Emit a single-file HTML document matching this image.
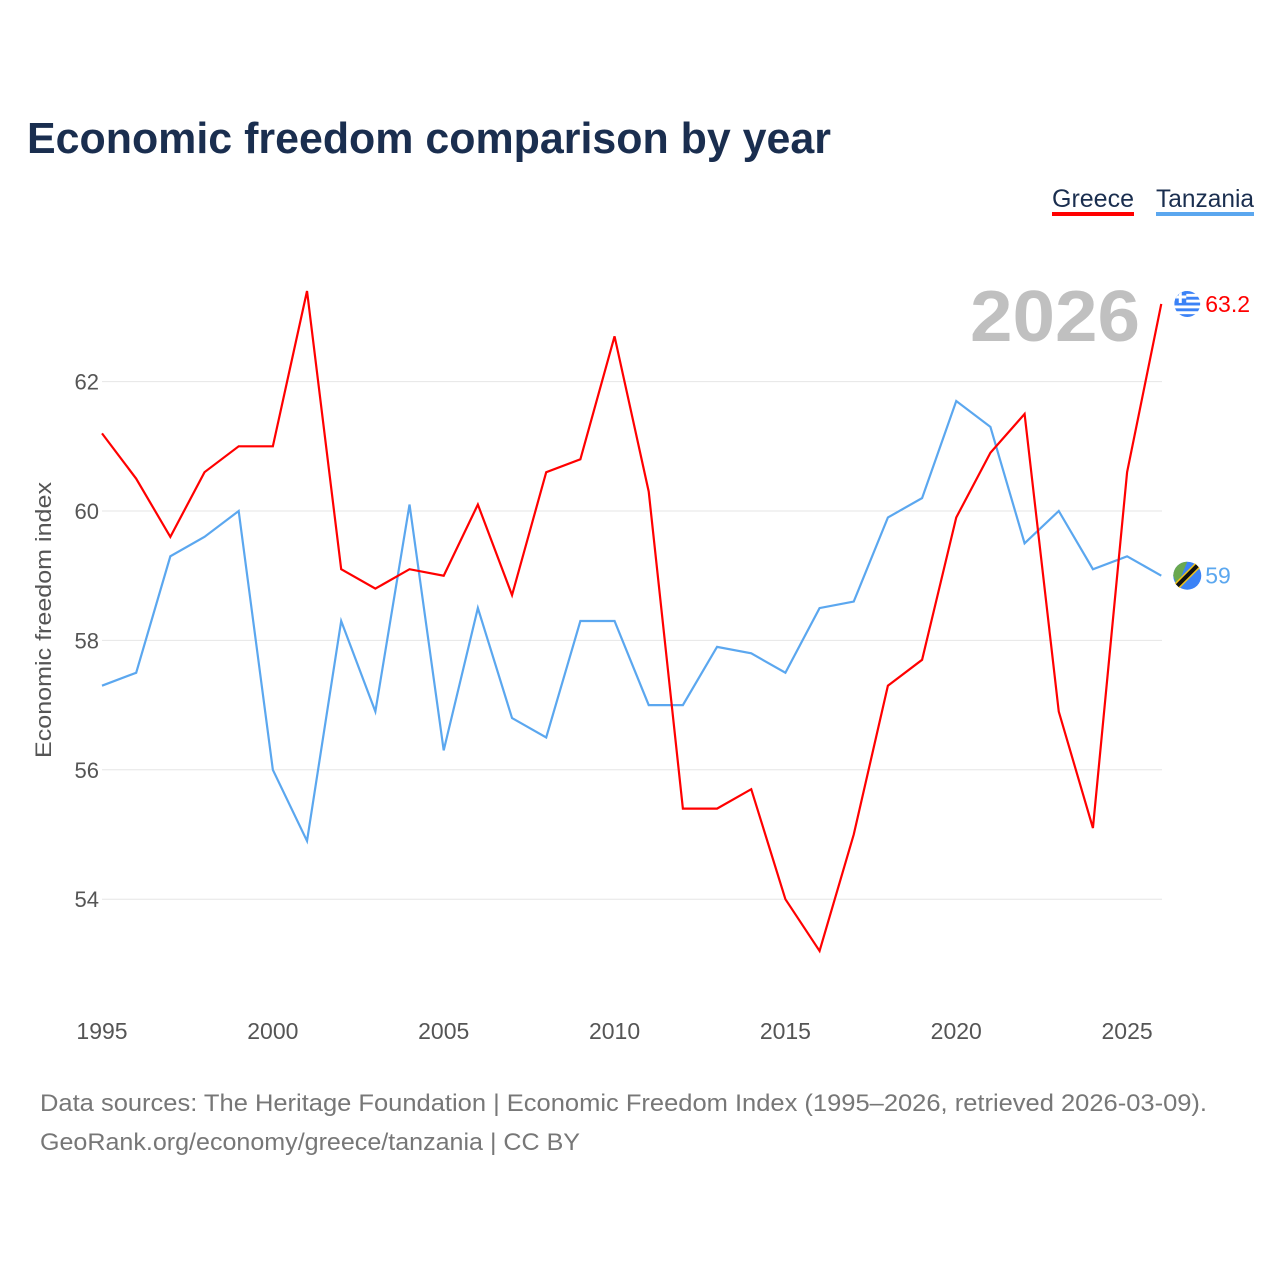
<!DOCTYPE html>
<html><head><meta charset="utf-8"><style>
body{margin:0;background:#fff;font-family:"Liberation Sans",sans-serif;}
</style></head><body>
<svg width="1280" height="1280" xmlns="http://www.w3.org/2000/svg" id="chart" style="font-family:'Liberation Sans',sans-serif">
<defs><clipPath id="gc"><circle cx="1187" cy="302" r="13"/></clipPath></defs>
<text x="27" y="153" font-size="44" font-weight="bold" fill="#1a2e4f" textLength="804" lengthAdjust="spacingAndGlyphs">Economic freedom comparison by year</text>
<g><text x="1052" y="207" font-size="25" fill="#1a2e4f" textLength="82" lengthAdjust="spacingAndGlyphs">Greece</text><rect x="1052" y="212" width="82" height="4" fill="#ff0000"/></g>
<g><text x="1156" y="207" font-size="25" fill="#1a2e4f" textLength="98" lengthAdjust="spacingAndGlyphs">Tanzania</text><rect x="1156" y="212" width="98" height="4" fill="#5ba7ef"/></g>
<text x="1140" y="341" font-size="72" font-weight="bold" fill="#c0c0c0" text-anchor="end" textLength="170" lengthAdjust="spacingAndGlyphs">2026</text>
<text transform="translate(51,620) rotate(-90)" font-size="22" fill="#555" text-anchor="middle" textLength="276" lengthAdjust="spacingAndGlyphs">Economic freedom index</text>
<g id="grid"></g><g id="xt"></g><g id="lines"></g>
<text x="40" y="1111" font-size="24" fill="#777" textLength="1167" lengthAdjust="spacingAndGlyphs">Data sources: The Heritage Foundation | Economic Freedom Index (1995–2026, retrieved 2026-03-09).</text>
<text x="40" y="1150" font-size="24" fill="#777" textLength="540" lengthAdjust="spacingAndGlyphs">GeoRank.org/economy/greece/tanzania | CC BY</text>
</svg>
<script>
const years=[];for(let y=1995;y<=2026;y++)years.push(y);
const greece=[61.2,60.5,59.6,60.6,61.0,61.0,63.4,59.1,58.8,59.1,59.0,60.1,58.7,60.6,60.8,62.7,60.3,55.4,55.4,55.7,54.0,53.2,55.0,57.3,57.7,59.9,60.9,61.5,56.9,55.1,60.6,63.2];
const tanzania=[57.3,57.5,59.3,59.6,60.0,56.0,54.9,58.3,56.9,60.1,56.3,58.5,56.8,56.5,58.3,58.3,57.0,57.0,57.9,57.8,57.5,58.5,58.6,59.9,60.2,61.7,61.3,59.5,60.0,59.1,59.3,59.0];
const yTicks=[54,56,58,60,62];
const xTicks=[1995,2000,2005,2010,2015,2020,2025];
const NS="http://www.w3.org/2000/svg";
const X=y=>102+(y-1995)*34.17;
const Y=v=>511-(v-60)*64.7;
function mk(t,a,p){const e=document.createElementNS(NS,t);for(const k in a)e.setAttribute(k,a[k]);p.appendChild(e);return e;}
const grid=document.getElementById('grid');
yTicks.forEach(v=>{
 const l=mk('line',{x1:102,x2:1162,y1:Y(v),y2:Y(v),stroke:'#e6e6e6','stroke-width':1},grid);
 
 
 const t=mk('text',{x:99,y:Y(v)+8,'font-size':22,fill:'#555','text-anchor':'end'},grid);t.textContent=v;
 
 
});
const xt=document.getElementById('xt');
xTicks.forEach(v=>{
 const t=mk('text',{x:X(v),y:1039,'font-size':23,fill:'#555','text-anchor':'middle'},xt);t.textContent=v;
 
 
});
const lines=document.getElementById('lines');
function series(vals,col,name){
 const p=mk('polyline',{points:vals.map((v,i)=>X(years[i])+','+Y(v)).join(' '),fill:'none',stroke:col,'stroke-width':2.2},lines);
 
 
 const last=vals[vals.length-1],cx=X(2026)+26,cy=Y(last);
 const g=mk('g',{},lines);
 
 
 if(name==='greece'){
  const f=mk('g',{'clip-path':'url(#gc)',transform:`translate(${cx-1187},${cy-302})`},g);
  const c=1187,d=302;
  mk('circle',{cx:c,cy:d,r:13,fill:'#fff'},f);
  for(let i=0;i<5;i++)mk('rect',{x:c-13,y:d-13+i*5.8,width:26,height:2.9,fill:'#3b82f6'},f);
  mk('rect',{x:c-13,y:d-13,width:12,height:12,fill:'#3b82f6'},f);
  mk('rect',{x:c-8.5,y:d-13,width:3,height:12,fill:'#fff'},f);
  mk('rect',{x:c-13,y:d-8.5,width:12,height:3,fill:'#fff'},f);
 }else{
  mk('circle',{cx:cx,cy:cy,r:14,fill:'#3b82f6'},g);
  mk('path',{d:`M${cx-14},${cy} A14 14 0 0 1 ${cx},${cy-14} L${cx-10},${cy+10}Z`,fill:'#6aa84f'},g);
  mk('line',{x1:cx-10,y1:cy+10,x2:cx+10,y2:cy-10,stroke:'#f5c518','stroke-width':7},g);
  mk('line',{x1:cx-10,y1:cy+10,x2:cx+10,y2:cy-10,stroke:'#111','stroke-width':4},g);
 }
 const t=mk('text',{x:cx+18,y:cy+8,'font-size':23,fill:col},g);t.textContent=String(last);
}
series(tanzania,'#5ba7ef','tanzania');
series(greece,'#ff0000','greece');
</script>
</body></html>
